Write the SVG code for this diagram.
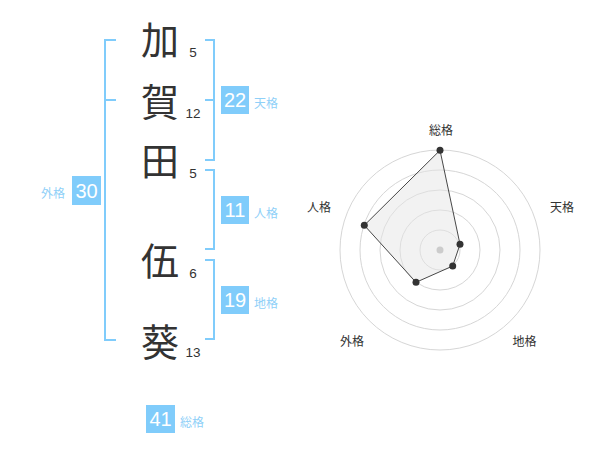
<svg xmlns="http://www.w3.org/2000/svg" width="600" height="470" viewBox="0 0 600 470">
<style>
.kanji{font-family:"Noto Sans CJK JP","Noto Sans CJK SC",sans-serif;font-size:38px;fill:#333;text-anchor:middle}
.num{font-family:"Liberation Sans",Arial,sans-serif;font-size:13.5px;fill:#333;text-anchor:middle}
.br{fill:none;stroke:#80ccfb;stroke-width:2}
.box{fill:#80ccfb}
.bnum{font-family:"Liberation Sans",Arial,sans-serif;font-size:20px;fill:#fff;text-anchor:middle}
.lab{font-family:"Noto Sans CJK JP","Noto Sans CJK SC",sans-serif;font-size:12px;fill:#8fd0f8}
.ring{fill:none;stroke:#d6d6d6;stroke-width:1}
.rl{font-family:"Noto Sans CJK JP","Noto Sans CJK SC",sans-serif;font-size:12px;fill:#333;text-anchor:middle}
.pt{fill:#333}
</style>
<rect width="600" height="470" fill="#fff"/>
<g id="connectors">
<path class="br" d="M116,40 H105 V340 H116 M105,100 H116"/>
<path class="br" d="M205,40 H214 V160 H205 M205,100 H214"/>
<path class="br" d="M205,170 H214 V249 H205"/>
<path class="br" d="M205,260 H214 V339 H205"/>
</g>
<g id="char1"><text class="kanji" x="160" y="54">加</text><text class="num" x="193" y="57">5</text></g>
<g id="char2"><text class="kanji" x="160" y="116">賀</text><text class="num" x="193" y="118">12</text></g>
<g id="char3"><text class="kanji" x="160" y="175">田</text><text class="num" x="193" y="178">5</text></g>
<g id="char4"><text class="kanji" x="160" y="275">伍</text><text class="num" x="193" y="278">6</text></g>
<g id="char5"><text class="kanji" x="160" y="356">葵</text><text class="num" x="193" y="357">13</text></g>
<g id="tenkaku"><rect class="box" x="221" y="86" width="28" height="28"/><text class="bnum" x="235" y="107">22</text><text class="lab" x="254" y="108">天格</text></g>
<g id="jinkaku"><rect class="box" x="221" y="196" width="28" height="28"/><text class="bnum" x="235" y="217">11</text><text class="lab" x="254" y="218">人格</text></g>
<g id="chikaku"><rect class="box" x="221" y="286" width="28" height="28"/><text class="bnum" x="235" y="307">19</text><text class="lab" x="254" y="308">地格</text></g>
<g id="gaikaku"><rect class="box" x="72" y="176" width="29" height="29"/><text class="bnum" x="86.5" y="198">30</text><text class="lab" x="41" y="198">外格</text></g>
<g id="soukaku"><rect class="box" x="146" y="405" width="29" height="28"/><text class="bnum" x="160.5" y="426">41</text><text class="lab" x="180" y="427">総格</text></g>
<g id="radar">
<circle class="ring" cx="440" cy="250" r="20"/>
<circle class="ring" cx="440" cy="250" r="40"/>
<circle class="ring" cx="440" cy="250" r="60"/>
<circle class="ring" cx="440" cy="250" r="80"/>
<circle class="ring" cx="440" cy="250" r="100"/>
<polygon points="440,150.3 460,244.3 452.7,266 416,282.3 364.3,225.3" fill="#e6e6e6" fill-opacity="0.5" stroke="#333" stroke-width="0.9"/>
<circle cx="440" cy="250" r="3.5" fill="#ccc"/>
<circle class="pt" cx="440" cy="150.3" r="3.5"/>
<circle class="pt" cx="460" cy="244.3" r="3.5"/>
<circle class="pt" cx="452.7" cy="266" r="3.5"/>
<circle class="pt" cx="416" cy="282.3" r="3.5"/>
<circle class="pt" cx="364.3" cy="225.3" r="3.5"/>
<text class="rl" x="441" y="135">総格</text>
<text class="rl" x="562" y="212">天格</text>
<text class="rl" x="524.5" y="346">地格</text>
<text class="rl" x="352" y="346">外格</text>
<text class="rl" x="319" y="212">人格</text>
</g>
</svg>
